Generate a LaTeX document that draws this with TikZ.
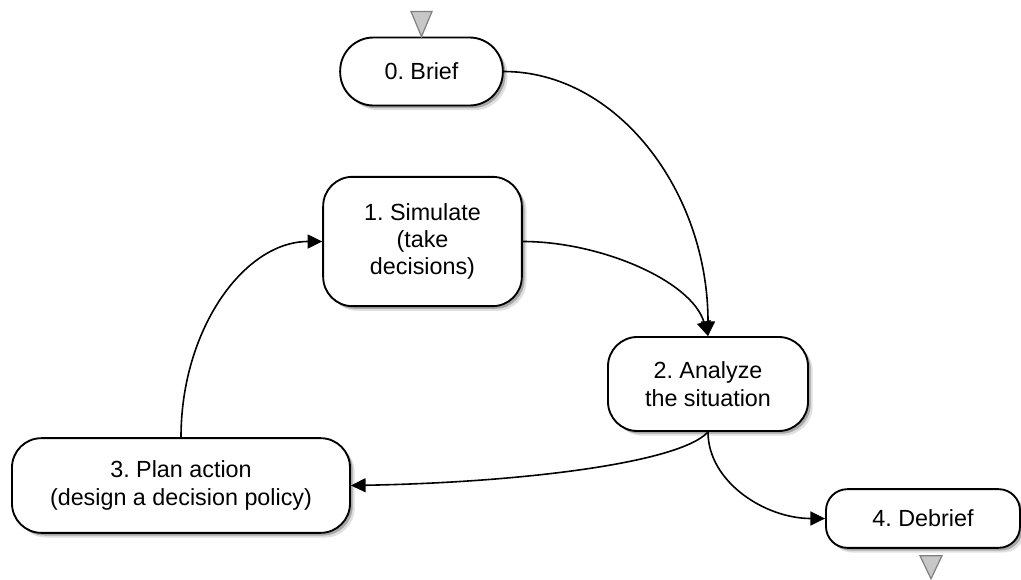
\documentclass[tikz,border=0pt]{standalone}
\usepackage{fontspec}
\setmainfont{Liberation Sans}
\usetikzlibrary{arrows.meta,shadows}
\frenchspacing

\begin{document}
\begin{tikzpicture}[x=0.75pt,y=0.75pt,yscale=-1,xscale=1,
  stage/.style={draw, line width=1.4pt, fill=white, rounded corners=22pt, align=center, inner sep=0pt,
    font=\fontsize{17.5}{20.5}\selectfont,
    drop shadow={shadow xshift=3.5pt, shadow yshift=-3.5pt, opacity=0.12, fill=black},
    drop shadow={shadow xshift=2pt, shadow yshift=-2pt, opacity=0.25, fill=black}},
  flow/.style={line width=1.2pt, -{Triangle[length=11pt,width=10.5pt]}},
  tipmark/.style={draw=black!50, fill=black!22, line width=0.9pt}]
%set diagram to 1021 x 579
\useasboundingbox (0,0) rectangle (1021,579);

% Stage Nodes
\node[stage, rounded corners=25pt, minimum width=122pt, minimum height=51pt] (brief) at (421.5,71.5) {0. Brief};
\node[stage, minimum width=149pt, minimum height=97pt] (simulate) at (422.5,241.5) {1. Simulate\\(take\\decisions)};
\node[stage, minimum width=150pt, minimum height=70.5pt] (analyze) at (708,384) {2. Analyze\\the situation};
\node[stage, minimum width=253.5pt, minimum height=71pt] (plan) at (181,485.5) {3. Plan action\\(design a decision policy)};
\node[stage, rounded corners=16pt, minimum width=145.5pt, minimum height=44pt] (debrief) at (923,518.5) {4. Debrief};

% Start and end marks
\draw[tipmark] (brief.north) -- ++(-10.5,-25) -- ++(21,0) -- cycle;
\draw[tipmark] (debrief.south) ++(-3,7) -- ++(22,0) -- ++(-11,23) -- cycle;

% Curved Lines
\draw[flow] (brief.east) .. controls +(113,0) and +(0,-145) .. (analyze.north);
\draw[flow] (simulate.east) .. controls +(78,0) and +(-16,-55) .. (analyze.north);
\draw[flow] (analyze.south) .. controls +(-28,31) and +(170,-3) .. (plan.east);
\draw[flow] (analyze.south) .. controls +(0,50) and +(-60,0) .. (debrief.west);
\draw[flow] (plan.north) .. controls +(0,-108) and +(-78,0) .. (simulate.west);

\end{tikzpicture}
\end{document}
